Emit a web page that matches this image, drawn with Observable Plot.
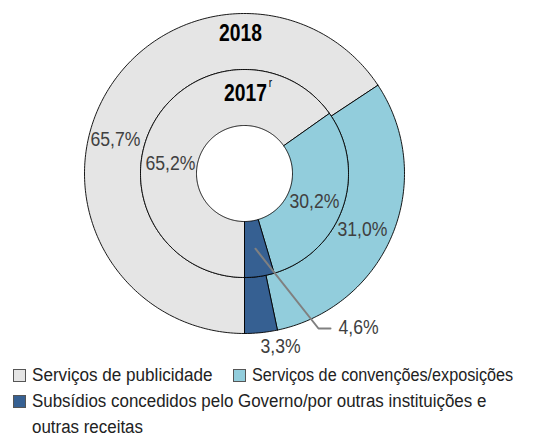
<!DOCTYPE html>
<html>
<head>
<meta charset="utf-8">
<script src="https://cdn.jsdelivr.net/npm/d3@7"></script>
<script src="https://cdn.jsdelivr.net/npm/@observablehq/plot@0.6"></script>
<style>
  body { margin: 0; background: #fff; font-family: "Liberation Sans", Arial, sans-serif; }
  #chart svg { display: block; }
  .legend { color: #222; font-size: 18px; }
  .row { position: relative; height: 26px; line-height: 26px; }
  .item { position: absolute; top: 0; white-space: nowrap; }
  .sw { position: absolute; left: 0; top: 7px; width: 11px; height: 11px; border: 1px solid #555; }
  .lt { position: absolute; left: 19px; top: 0; display: inline-block; transform: scaleX(0.95); transform-origin: left top; }
</style>
</head>
<body>
<div id="chart"></div>
<div class="legend" id="legend"></div>
<script>
// ---- Data ----
const categories = ["Serviços de publicidade", "Serviços de convenções/exposições", "Subsídios concedidos pelo Governo/por outras instituições e outras receitas"];
const colors = ["#e5e5e5", "#92cddc", "#366092"];
const years = ["2018", "2017"];
const values2018 = [65.7, 31.0, 3.3];
const values2017 = [65.2, 30.2, 4.6];
const labels2018 = ["65,7%", "31,0%", "3,3%"];
const labels2017 = ["65,2%", "30,2%", "4,6%"];

// ---- Layout (pixels / radius units) ----
const W = 541, H = 358;
const cx = 244, cy = 173, R = 160;
const rings = { "2018": [104 / R, 1], "2017": [48 / R, 104 / R] };
const startAngle = 180; // degrees clockwise from north
// label placement: [angle deg, radius in R units]
const labelPos2018 = [[284.8, 0.834], [115.4, 0.816], [168.2, 1.104]];
const labelPos2017 = [[277.7, 0.467], [111.8, 0.471], null];

const rad = d => d * Math.PI / 180;
const px = (a, r) => r * Math.sin(rad(a));
const py = (a, r) => -r * Math.cos(rad(a));

// build arc polygons
const polys = [];
const sliceInfo = {};
function buildRing(year, values) {
  const [r0, r1] = rings[year];
  const total = d3.sum(values);
  let a = startAngle;
  values.forEach((v, i) => {
    const a0 = a, a1 = a + v / total * 360;
    const id = year + "-" + i;
    const n = Math.max(2, Math.ceil((a1 - a0) / 1));
    const pts = [];
    for (let k = 0; k <= n; k++) { const t = a0 + (a1 - a0) * k / n; pts.push({id, cat: categories[i], x: px(t, r1), y: py(t, r1)}); }
    for (let k = n; k >= 0; k--) { const t = a0 + (a1 - a0) * k / n; pts.push({id, cat: categories[i], x: px(t, r0), y: py(t, r0)}); }
    pts.push({...pts[0]});
    polys.push(...pts);
    sliceInfo[id] = {a0, a1, r0, r1};
    a = a1;
  });
}
buildRing("2018", values2018);
buildRing("2017", values2017);

const texts = [];
labels2018.forEach((t, i) => { const p = labelPos2018[i]; if (p) texts.push({text: t, x: px(p[0], p[1]), y: py(p[0], p[1])}); });
labels2017.forEach((t, i) => { const p = labelPos2017[i]; if (p) texts.push({text: t, x: px(p[0], p[1]), y: py(p[0], p[1])}); });

// leader for 2017 third slice
const s = sliceInfo["2017-2"];
const am = (s.a0 + s.a1) / 2, rm = (s.r0 + s.r1) / 2;
const leader = [
  {x: px(am, rm), y: py(am, rm)},
  {x: 74 / R, y: 155 / R},
  {x: 86 / R, y: 155 / R}
];
const leaderText = [{text: labels2017[2], x: 94 / R, y: 154 / R}];

const yearText = [
  {text: years[0], x: -4 / R, y: -140 / R},
  {text: years[1], x: 1 / R, y: -80 / R}
];
const supText = [{text: "r", x: 26 / R, y: -90 / R}];

const chart = Plot.plot({
  width: W, height: H,
  margin: 0,
  x: {domain: [-cx / R, (W - cx) / R], range: [0, W], axis: null},
  y: {domain: [-cy / R, (H - cy) / R], range: [0, H], axis: null},
  color: {domain: categories, range: colors},
  style: {fontFamily: "Liberation Sans, Arial, sans-serif", background: "white"},
  marks: [
    Plot.line(polys, {x: "x", y: "y", z: "id", fill: "cat", stroke: "#000", strokeWidth: 0.9, curve: "linear"}),
    Plot.line(leader, {x: "x", y: "y", stroke: "#808080", strokeWidth: 2}),
    Plot.text(texts, {x: "x", y: "y", text: "text", fontSize: 21, fill: "#404040"}),
    Plot.text(leaderText, {x: "x", y: "y", text: "text", fontSize: 21, fill: "#404040", textAnchor: "start"}),
    Plot.text(yearText, {x: "x", y: "y", text: "text", fontSize: 23, fontWeight: "bold", fill: "#000"}),
    Plot.text(supText, {x: "x", y: "y", text: "text", fontSize: 12, fill: "#000"})
  ]
});
document.getElementById("chart").appendChild(chart);

// condense the text glyphs horizontally around their anchor
chart.querySelectorAll("text").forEach(t => {
  const tr = t.getAttribute("transform");
  if (tr && /translate/.test(tr)) t.setAttribute("transform", tr + " scale(0.84,1)");
});

// legend
const lg = document.getElementById("legend");
lg.innerHTML = `
  <div class="row" style="margin-top:4px">
    <div class="item" style="left:13px"><span class="sw" style="background:${colors[0]}"></span><span class="lt">${categories[0]}</span></div>
    <div class="item" style="left:233px"><span class="sw" style="background:${colors[1]}"></span><span class="lt" style="transform:scaleX(0.9)">${categories[1]}</span></div>
  </div>
  <div class="row" style="height:52px">
    <div class="item" style="left:13px;line-height:26px"><span class="sw" style="background:${colors[2]}"></span><span class="lt" style="transform:scaleX(0.94)">Subsídios concedidos pelo Governo/por outras instituições e<br>outras receitas</span></div>
  </div>`;
</script>
</body>
</html>
